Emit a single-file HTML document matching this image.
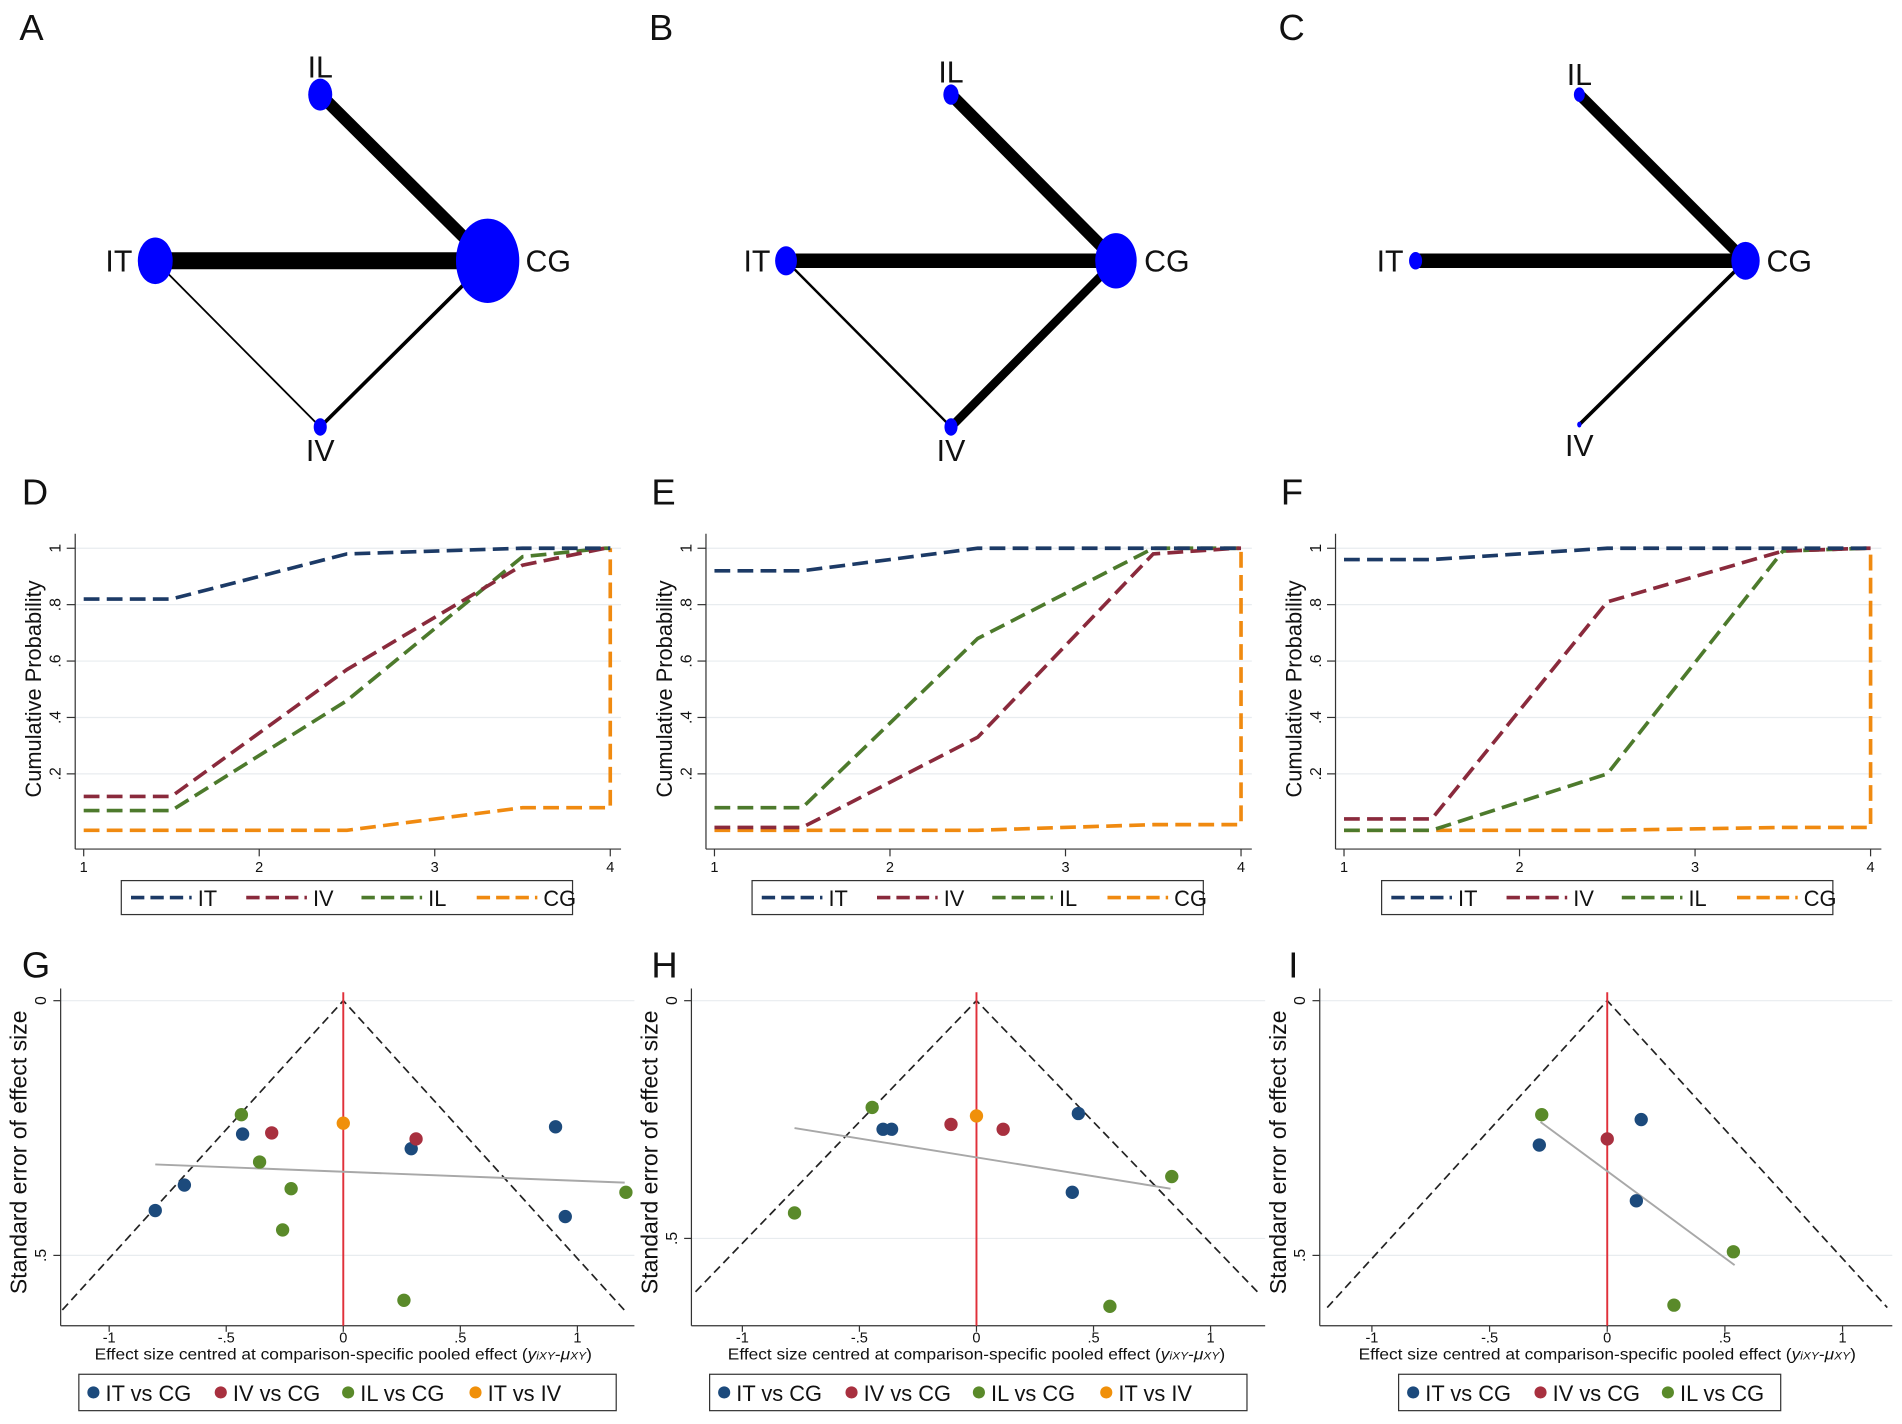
<!DOCTYPE html>
<html><head><meta charset="utf-8"><style>
html,body{margin:0;padding:0;background:#fff;width:1902px;height:1424px;overflow:hidden}
svg{display:block}
text{font-family:"Liberation Sans",sans-serif;fill:#111}
</style></head><body>
<svg id="s" width="1902" height="1424" viewBox="0 0 1568 1174" preserveAspectRatio="none" xmlns="http://www.w3.org/2000/svg">
<rect width="1568" height="1174" fill="#fff"/>
<g font-size="30">
<text x="16" y="33">A</text><text x="535" y="33">B</text><text x="1054" y="33">C</text>
<text x="18" y="416">D</text><text x="537" y="416">E</text><text x="1056" y="416">F</text>
<text x="18" y="806">G</text><text x="537" y="806">H</text><text x="1062" y="806">I</text>
</g>
<g id="net"></g>
<g font-size="25">
<text x="264" y="64" text-anchor="middle">IL</text><text x="98" y="224" text-anchor="middle">IT</text><text x="452" y="224" text-anchor="middle">CG</text><text x="264" y="380" text-anchor="middle">IV</text>
<text x="784" y="68" text-anchor="middle">IL</text><text x="624" y="224" text-anchor="middle">IT</text><text x="962" y="224" text-anchor="middle">CG</text><text x="784" y="380" text-anchor="middle">IV</text>
<text x="1302" y="70" text-anchor="middle">IL</text><text x="1146" y="224" text-anchor="middle">IT</text><text x="1475" y="224" text-anchor="middle">CG</text><text x="1302" y="376" text-anchor="middle">IV</text>
</g>
<g id="rank"></g>
<g id="fun"></g>
</svg>
<script>
var NS="http://www.w3.org/2000/svg";
function el(p,t,a,txt){var e=document.createElementNS(NS,t);for(var k in a)e.setAttribute(k,a[k]);if(txt!=null)e.textContent=txt;document.getElementById(p).appendChild(e);return e;}
function ln(p,x1,y1,x2,y2,c,w,d){var a={x1:x1,y1:y1,x2:x2,y2:y2,stroke:c,"stroke-width":w};if(d)a["stroke-dasharray"]=d;el(p,"line",a);}
var nets=[
 {IL:[264,78,11],IT:[128,215,16],CG:[402,215,29],IV:[264,352,6],e:[["IT","CG",14],["IL","CG",10],["IT","IV",1.5],["CG","IV",3]]},
 {IL:[784,78,7],IT:[648,215,10],CG:[920,215,19],IV:[784,352,6],e:[["IT","CG",12],["IL","CG",10],["IT","IV",2],["CG","IV",7]]},
 {IL:[1302,78,5],IT:[1167,215,6],CG:[1439,215,13],IV:[1302,350,2],e:[["IT","CG",12],["IL","CG",9],["CG","IV",3]]}];
nets.forEach(function(n){n.e.forEach(function(e){var a=n[e[0]],b=n[e[1]];ln("net",a[0],a[1],b[0],b[1],"#000",e[2]);});
 ["IL","IT","CG","IV"].forEach(function(k){var c=n[k];el("net","ellipse",{cx:c[0],cy:c[1],rx:c[2]*0.9,ry:c[2]*1.2,fill:"#0000ff"});});});
var cols={IT:"#1c3a66",IV:"#8a2a3c",IL:"#4d7a2c",CG:"#f08a10"};
var rk=[
 {IT:[.82,.82,.98,1,1],IV:[.12,.12,.57,.94,1],IL:[.07,.07,.46,.97,1],CG:[0,0,0,.08,.08]},
 {IT:[.92,.92,1,1,1],IV:[.01,.01,.33,.98,1],IL:[.08,.08,.68,1,1],CG:[0,0,0,.02,.02]},
 {IT:[.96,.96,1,1,1],IV:[.04,.04,.81,.99,1],IL:[0,0,.20,.99,1],CG:[0,0,0,.01,.01]}];
var xs=[1,1.5,2.5,3.5,3.97];
rk.forEach(function(d,i){var o=[0,520,1039][i];
 var X=function(v){return o+69+(v-1)*144.7;},Y=function(v){return 684.5-v*232.5;};
 for(var t=0.2;t<1.01;t+=0.2){ln("rank",o+62,Y(t),o+512,Y(t),"#e8ecef",1);
  var lab=(Math.round(t*10)/10===1)?"1":("."+Math.round(t*10));
  el("rank","text",{x:0,y:0,"font-size":13,"text-anchor":"middle",transform:"translate("+(o+50)+","+Y(t)+") rotate(-90)"},lab);
  ln("rank",o+55,Y(t),o+62,Y(t),"#333",1);}
 ln("rank",o+62,440,o+62,700,"#333",1);ln("rank",o+62,700,o+512,700,"#333",1);
 for(var k=1;k<=4;k++){ln("rank",X(k),700,X(k),706,"#333",1);el("rank","text",{x:X(k),y:719,"font-size":12,"text-anchor":"middle"},""+k);}
 el("rank","text",{x:0,y:0,"font-size":18,"text-anchor":"middle",transform:"translate("+(o+34)+",568) rotate(-90)"},"Cumulative Probability");
 ["CG","IL","IV","IT"].forEach(function(s){var pts=d[s].map(function(v,j){return X(xs[j])+","+Y(v);});
  pts.push(X(4)+","+Y(1));if(s=="CG"){pts.splice(5,1);pts.push(X(4)+","+Y(d.CG[4]));pts.push(X(4)+","+Y(1));}
  el("rank","polyline",{points:pts.join(" "),fill:"none",stroke:cols[s],"stroke-width":3,"stroke-dasharray":"13,6"});});
 var lx=o+100;el("rank","rect",{x:lx,y:726,width:372,height:28,fill:"#fff",stroke:"#333","stroke-width":1});
 ["IT","IV","IL","CG"].forEach(function(s,j){var bx=lx+8+j*95;ln("rank",bx,740,bx+50,740,cols[s],3,"11,5");
  el("rank","text",{x:bx+55,y:747,"font-size":18},s);});
});
var mc={b:"#1c4a7c",r:"#a8303f",g:"#5a8a2a",o:"#f0900a"};
var fp=[
 {ax:50,z:283,u:193,y0:825,ys:420,bot:1080,tri:1.2,right:523,gl:[[128,960],[515,975]],lab:1035,
  pts:[["b",200,935],["b",152,977],["b",128,998],["b",339,947],["b",458,929],["b",466,1003],["r",224,934],["r",343,939],["g",199,919],["g",214,958],["g",240,980],["g",233,1014],["g",333,1072],["g",516,983],["o",283,926]],
  leg:[65,443,["b","IT vs CG"],["r","IV vs CG"],["g","IL vs CG"],["o","IT vs IV"]]},
 {ax:570,z:805,u:193,y0:825,ys:392,bot:1065,tri:1.2,right:1043,gl:[[655,930],[965,980]],lab:1021,
  pts:[["g",719,913],["g",655,1000],["g",966,970],["g",915,1077],["b",728,931],["b",735,931],["b",889,918],["b",884,983],["r",784,927],["r",827,931],["o",805,920]],
  leg:[585,443,["b","IT vs CG"],["r","IV vs CG"],["g","IL vs CG"],["o","IT vs IV"]]},
 {ax:1088,z:1325,u:194,y0:825,ys:420,bot:1078,tri:1.19,right:1560,gl:[[1270,925],[1430,1043]],lab:1035,
  pts:[["g",1271,919],["g",1429,1032],["g",1380,1076],["b",1269,944],["b",1353,923],["b",1349,990],["r",1325,939]],
  leg:[1153,315,["b","IT vs CG"],["r","IV vs CG"],["g","IL vs CG"]]}];
fp.forEach(function(f){
 ln("fun",f.ax,f.y0,f.right,f.y0,"#e8ecef",1);ln("fun",f.ax,f.lab,f.right,f.lab,"#e8ecef",1);
 ln("fun",f.ax,815,f.ax,1093,"#333",1);ln("fun",f.ax,1093,f.right,1093,"#333",1);
 ln("fun",f.ax-6,f.y0,f.ax,f.y0,"#333",1);ln("fun",f.ax-6,f.lab,f.ax,f.lab,"#333",1);
 el("fun","text",{x:0,y:0,"font-size":13,"text-anchor":"middle",transform:"translate("+(f.ax-12)+","+f.y0+") rotate(-90)"},"0");
 el("fun","text",{x:0,y:0,"font-size":13,"text-anchor":"middle",transform:"translate("+(f.ax-12)+","+f.lab+") rotate(-90)"},".5");
 el("fun","text",{x:0,y:0,"font-size":19,"text-anchor":"middle",transform:"translate("+(f.ax-28)+",950) rotate(-90)"},"Standard error of effect size");
 [[-1,"-1"],[-.5,"-.5"],[0,"0"],[.5,".5"],[1,"1"]].forEach(function(t){var x=f.z+t[0]*f.u;ln("fun",x,1093,x,1098,"#333",1);
  el("fun","text",{x:x,y:1107,"font-size":12,"text-anchor":"middle"},t[1]);});
 var tx=el("fun","text",{x:f.z,y:1121,"font-size":13,"text-anchor":"middle",textLength:410,lengthAdjust:"spacingAndGlyphs"},"Effect size centred at comparison-specific pooled effect (");
 var ts=document.createElementNS(NS,"tspan");ts.setAttribute("font-style","italic");ts.textContent="y";tx.appendChild(ts);
 var s1=document.createElementNS(NS,"tspan");s1.setAttribute("font-size","9");s1.setAttribute("font-style","italic");s1.textContent="iXY";tx.appendChild(s1);
 tx.appendChild(document.createTextNode("-"));
 var s2=document.createElementNS(NS,"tspan");s2.setAttribute("font-style","italic");s2.textContent="μ";tx.appendChild(s2);
 var s3=document.createElementNS(NS,"tspan");s3.setAttribute("font-size","9");s3.setAttribute("font-style","italic");s3.textContent="XY";tx.appendChild(s3);
 tx.appendChild(document.createTextNode(")"));
 var dx=f.tri*f.u;
 el("fun","polyline",{points:(f.z-dx)+","+f.bot+" "+f.z+","+f.y0+" "+(f.z+dx)+","+f.bot,fill:"none",stroke:"#222","stroke-width":1.4,"stroke-dasharray":"7,4"});
 ln("fun",f.z,818,f.z,1093,"#e0303a",1.6);
 ln("fun",f.gl[0][0],f.gl[0][1],f.gl[1][0],f.gl[1][1],"#a8a8a8",1.6);
 f.pts.forEach(function(p){el("fun","circle",{cx:p[1],cy:p[2],r:5.5,fill:mc[p[0]]});});
 el("fun","rect",{x:f.leg[0],y:1133,width:f.leg[1],height:30,fill:"#fff",stroke:"#333","stroke-width":1});
 for(var j=2;j<f.leg.length;j++){var bx=f.leg[0]+12+(j-2)*105;el("fun","circle",{cx:bx,cy:1148,r:5,fill:mc[f.leg[j][0]]});
  el("fun","text",{x:bx+10,y:1155,"font-size":18},f.leg[j][1]);}
});
</script>
</body></html>
